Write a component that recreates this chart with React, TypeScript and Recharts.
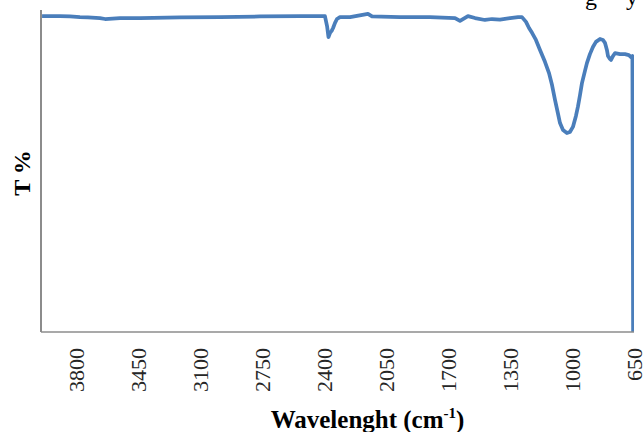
import { Label, Line, LineChart, XAxis, YAxis } from "recharts";

// wavenumber (cm-1), left to right
const wavenumbers = [
  3994, 3893, 3836, 3780, 3735, 3667, 3638, 3554, 3441, 3215, 2989, 2763, 2537,
  2396, 2384, 2376, 2367, 2358, 2350, 2339, 2328, 2311, 2254, 2153, 2130, 1972,
  1803, 1661, 1633, 1588, 1548, 1492, 1452, 1407, 1350, 1305, 1283, 1260, 1243,
  1226, 1204, 1181, 1153, 1130, 1113, 1096, 1079, 1068, 1051, 1029, 1012, 995,
  978, 967, 955, 944, 927, 916, 899, 882, 865, 842, 825, 814, 803, 797, 786,
  780, 769, 757, 729, 701, 679, 667, 659, 655,
];

// transmittance (%), same order
const transmittance = [
  98.1, 98.1, 98.0, 97.8, 97.7, 97.5, 97.2, 97.5, 97.5, 97.7, 97.8, 98.0, 98.1,
  98.1, 95.0, 91.6, 92.9, 93.5, 94.4, 96.0, 97.2, 97.8, 97.8, 98.8, 98.0, 97.8,
  97.8, 97.5, 96.6, 98.1, 97.5, 96.9, 97.2, 97.0, 97.5, 97.8, 97.8, 96.3, 94.4,
  92.9, 90.7, 87.6, 83.9, 80.4, 76.7, 72.0, 67.7, 64.9, 62.7, 61.8, 62.1, 63.7,
  67.1, 69.9, 73.6, 77.3, 81.1, 83.5, 86.3, 88.5, 90.1, 91.0, 90.7, 89.8, 87.6,
  85.7, 84.8, 84.5, 85.7, 86.6, 86.3, 86.3, 86.0, 85.4, 85.7, 0,
];

const xTicks = [3800, 3450, 3100, 2750, 2400, 2050, 1700, 1350, 1000, 650];

const data = wavenumbers.map((wn, i) => ({ wn, t: transmittance[i] }));

const serif = "'Liberation Serif', 'DejaVu Serif', serif";

function WavenumberTick(props: any) {
  const { x, y, payload } = props;
  return (
    <text
      x={x}
      y={y}
      transform={`rotate(-90 ${x} ${y})`}
      textAnchor="end"
      dominantBaseline="central"
      fontFamily={serif}
      fontSize={22}
      fill="#262626"
    >
      {payload.value}
    </text>
  );
}

function XTitle(props: any) {
  const { x, y, width, height } = props.viewBox;
  return (
    <text
      x={x + width / 2 + 30}
      y={y + height - 4}
      textAnchor="middle"
      fontFamily={serif}
      fontWeight="bold"
      fontSize={25}
      fill="#000"
    >
      Wavelenght (cm
      <tspan fontSize={15} dy={-10}>-1</tspan>
      <tspan dy={10}>)</tspan>
    </text>
  );
}

function YTitle(props: any) {
  const { x, y, width, height } = props.viewBox;
  const cx = x + width - 19;
  const cy = y + height / 2 + 2;
  return (
    <text
      x={cx}
      y={cy}
      transform={`rotate(-90 ${cx} ${cy})`}
      textAnchor="middle"
      dominantBaseline="central"
      fontFamily={serif}
      fontWeight="bold"
      fontSize={24}
      fill="#000"
    >
      T %
    </text>
  );
}

export default function App() {
  return (
    <div style={{ width: 644, height: 432, background: "#fff", position: "relative" }}>
      <style>{`body{margin:0}`}</style>
      <svg
        width={644}
        height={432}
        style={{ position: "absolute", left: 0, top: 0, pointerEvents: "none" }}
      >
        <text x={585} y={5} fontFamily={serif} fontSize={24} fill="#000">g</text>
        <text x={626} y={5} fontFamily={serif} fontSize={24} fill="#000">y</text>
      </svg>
      <LineChart
        width={644}
        height={432}
        data={data}
        margin={{ top: 10, right: 10, bottom: 0, left: 0 }}
      >
        <XAxis
          dataKey="wn"
          type="number"
          domain={[650, 4000]}
          reversed
          ticks={xTicks}
          interval={0}
          allowDataOverflow
          height={100}
          tickLine={false}
          tickSize={0}
          tickMargin={16}
          tick={<WavenumberTick />}
          axisLine={{ stroke: "#8c8c8c", strokeWidth: 1.5 }}
        >
          <Label content={<XTitle />} />
        </XAxis>
        <YAxis
          type="number"
          domain={[0, 100]}
          width={41}
          tick={false}
          tickLine={false}
          axisLine={{ stroke: "#8c8c8c", strokeWidth: 2 }}
        >
          <Label content={<YTitle />} />
        </YAxis>
        <Line
          type="linear"
          dataKey="t"
          stroke="#4a7ebb"
          strokeWidth={3.75}
          strokeLinejoin="round"
          dot={false}
          isAnimationActive={false}
        />
      </LineChart>
    </div>
  );
}
